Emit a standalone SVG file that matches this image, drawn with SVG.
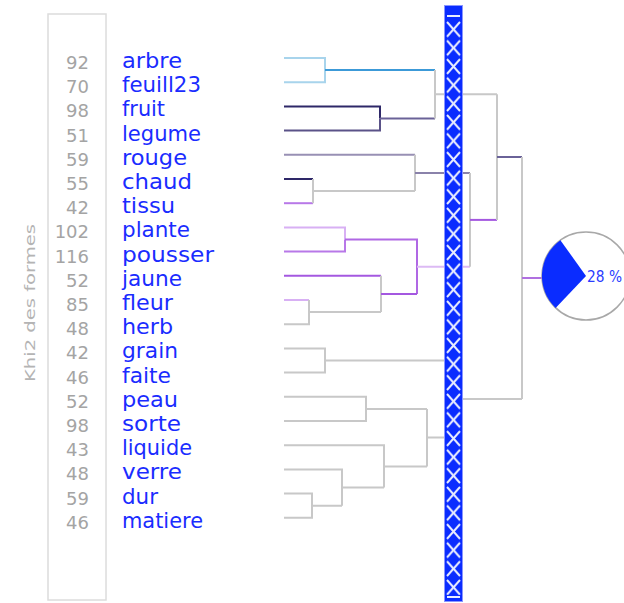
<svg xmlns="http://www.w3.org/2000/svg" width="624" height="603" viewBox="0 0 624 603">
<style>
.num{font-family:"DejaVu Sans",sans-serif;font-size:18px;fill:#a4a4a4;text-anchor:end}
.word{font-family:"DejaVu Sans",sans-serif;font-size:21px;fill:#1a2cff}
.g{stroke:#c8c8c8;stroke-width:2;fill:none}
.ln{stroke-width:2;fill:none}
</style>
<defs>
<pattern id="xp" x="444" y="20" width="19" height="18.6" patternUnits="userSpaceOnUse">
<path d="M3,2 L16,16.6 M16,2 L3,16.6" stroke="#e8ecff" stroke-width="2"/>
</pattern>
</defs>
<rect width="624" height="603" fill="#ffffff"/>
<g id="panel">
<rect x="48" y="14" width="58" height="586" fill="#ffffff" stroke="#dcdcdc" stroke-width="1.5"/>
<text transform="translate(35,303) rotate(-90)" text-anchor="middle" font-family="DejaVu Sans, sans-serif" font-size="14" fill="#b4b4b4" textLength="158" lengthAdjust="spacingAndGlyphs">Khi2 des formes</text>
</g>
<g id="counts">
<text class="num" x="89" y="69">92</text>
<text class="num" x="89" y="93.2">70</text>
<text class="num" x="89" y="117.4">98</text>
<text class="num" x="89" y="141.6">51</text>
<text class="num" x="89" y="165.8">59</text>
<text class="num" x="89" y="190">55</text>
<text class="num" x="89" y="214.2">42</text>
<text class="num" x="89" y="238.4">102</text>
<text class="num" x="89" y="262.6">116</text>
<text class="num" x="89" y="286.8">52</text>
<text class="num" x="89" y="311">85</text>
<text class="num" x="89" y="335.2">48</text>
<text class="num" x="89" y="359.4">42</text>
<text class="num" x="89" y="383.6">46</text>
<text class="num" x="89" y="407.8">52</text>
<text class="num" x="89" y="432">98</text>
<text class="num" x="89" y="456.2">43</text>
<text class="num" x="89" y="480.4">48</text>
<text class="num" x="89" y="504.6">59</text>
<text class="num" x="89" y="528.8">46</text>
</g>
<g id="words">
<text class="word" x="122" y="68" textLength="60" lengthAdjust="spacingAndGlyphs">arbre</text>
<text class="word" x="122" y="92.2" textLength="79" lengthAdjust="spacingAndGlyphs">feuill23</text>
<text class="word" x="122" y="116.4" textLength="43" lengthAdjust="spacingAndGlyphs">fruit</text>
<text class="word" x="122" y="140.6" textLength="79" lengthAdjust="spacingAndGlyphs">legume</text>
<text class="word" x="122" y="164.8" textLength="65" lengthAdjust="spacingAndGlyphs">rouge</text>
<text class="word" x="122" y="189" textLength="70" lengthAdjust="spacingAndGlyphs">chaud</text>
<text class="word" x="122" y="213.2" textLength="53" lengthAdjust="spacingAndGlyphs">tissu</text>
<text class="word" x="122" y="237.4" textLength="68" lengthAdjust="spacingAndGlyphs">plante</text>
<text class="word" x="122" y="261.6" textLength="92" lengthAdjust="spacingAndGlyphs">pousser</text>
<text class="word" x="122" y="285.8" textLength="60" lengthAdjust="spacingAndGlyphs">jaune</text>
<text class="word" x="122" y="310" textLength="51" lengthAdjust="spacingAndGlyphs">fleur</text>
<text class="word" x="122" y="334.2" textLength="51" lengthAdjust="spacingAndGlyphs">herb</text>
<text class="word" x="122" y="358.4" textLength="56" lengthAdjust="spacingAndGlyphs">grain</text>
<text class="word" x="122" y="382.6" textLength="49" lengthAdjust="spacingAndGlyphs">faite</text>
<text class="word" x="122" y="406.8" textLength="56" lengthAdjust="spacingAndGlyphs">peau</text>
<text class="word" x="122" y="431" textLength="59" lengthAdjust="spacingAndGlyphs">sorte</text>
<text class="word" x="122" y="455.2" textLength="70" lengthAdjust="spacingAndGlyphs">liquide</text>
<text class="word" x="122" y="479.4" textLength="60" lengthAdjust="spacingAndGlyphs">verre</text>
<text class="word" x="122" y="503.6" textLength="36" lengthAdjust="spacingAndGlyphs">dur</text>
<text class="word" x="122" y="527.8" textLength="81" lengthAdjust="spacingAndGlyphs">matiere</text>
</g>
<g id="connectors">
<path class="ln" stroke="#a8d4ec" d="M284,58 H325 V82.2 H284"/>
<path class="ln" stroke="#3c9ad8" d="M325,70.1 H435"/>
<path class="ln" stroke="#2e2868" d="M284,106.4 H380 V118.5"/>
<path class="ln" stroke="#5a5288" d="M380,118.5 V130.6 H284"/>
<path class="ln" stroke="#6a6298" d="M380,118.5 H435"/>
<path class="g" d="M435,70.1 V118.5 M435,94.3 H497"/>
<path class="ln" stroke="#9890b4" stroke-width="2.5" d="M284,154.8 H415"/>
<path class="ln" stroke="#2e2868" d="M284,179 H313"/>
<path class="ln" stroke="#b878e8" d="M284,203.2 H313"/>
<path class="g" d="M313,179 V203.2 M313,191.1 H415 M415,154.8 V191.1"/>
<path class="ln" stroke="#8a82aa" d="M415,173 H470"/>
<path class="ln" stroke="#d8b0f4" d="M284,227.4 H345 V239.5"/>
<path class="ln" stroke="#b878e8" d="M345,239.5 V251.6 H284"/>
<path class="ln" stroke="#b068e4" d="M345,239.5 H417 V294"/>
<path class="ln" stroke="#a458e0" d="M284,275.8 H381"/>
<path class="ln" stroke="#d8b0f4" d="M284,300 H309"/>
<path class="g" d="M309,300 V324.2 H284 M309,312.1 H381 M381,275.8 V312.1"/>
<path class="ln" stroke="#a458e0" d="M381,294 H417"/>
<path class="ln" stroke="#dcbaf4" d="M417,266.7 H470"/>
<path class="g" d="M470,173 V266.7"/>
<path class="ln" stroke="#a458e0" d="M470,219.9 H497"/>
<path class="g" d="M497,94.3 V219.9"/>
<path class="ln" stroke="#6a6298" d="M497,157 H522"/>
<path class="g" d="M284,348.4 H325 V372.6 H284 M325,360.5 H452"/>
<path class="g" d="M284,396.8 H366 V421 H284 M366,408.9 H427"/>
<path class="g" d="M284,445.2 H384 V487.6 M384,466.4 H427 M427,408.9 V466.4 M427,437.6 H452"/>
<path class="g" d="M284,469.4 H342 V505.7 M342,487.6 H384"/>
<path class="g" d="M284,493.6 H312 V517.8 H284 M312,505.7 H342"/>
<path class="g" d="M452,360.5 V437.6 M452,399 H522"/>
<path class="g" d="M522,157 V399"/>
<path class="ln" stroke="#b070e0" d="M522,278 H542"/>
</g>
<g id="bar">
<rect x="444.5" y="5.5" width="18" height="596" fill="#0a2cff" stroke="#8a96ff" stroke-width="1"/>
<rect x="445" y="20" width="17" height="575" fill="url(#xp)"/>
<path d="M447,16 H460 M447,597 H460" stroke="#e8ecff" stroke-width="2"/>
</g>
<g id="pie">
<circle cx="586" cy="276" r="44" fill="#ffffff" stroke="#a8a8a8" stroke-width="1.5"/>
<path d="M586,276 L555.6,307.9 A44,44 0 0,1 560.4,240.2 Z" fill="#0a2cff"/>
<text x="587" y="281.5" font-family="DejaVu Sans, sans-serif" font-size="15" fill="#2a3cff" textLength="35" lengthAdjust="spacingAndGlyphs">28 %</text>
</g>
</svg>
